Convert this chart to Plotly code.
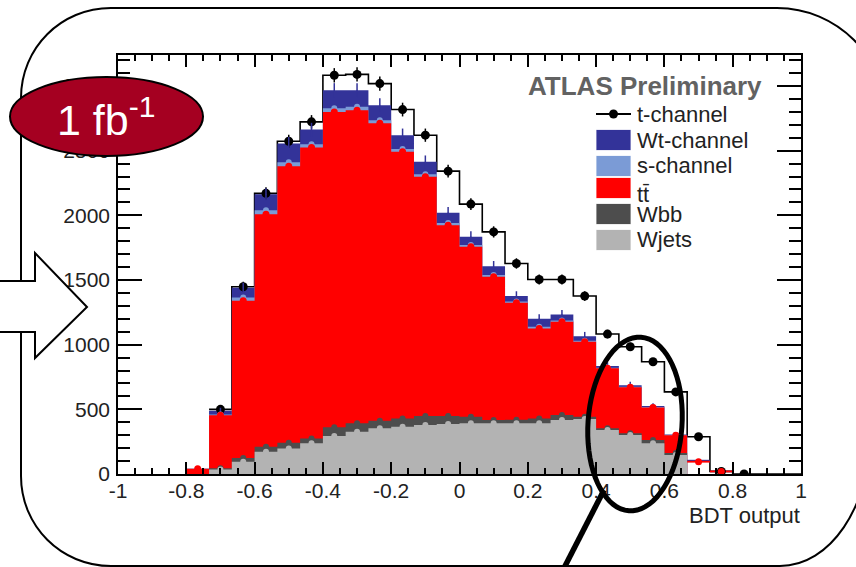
import numpy as np
import plotly.graph_objects as go

# ---------------------------------------------------------------- page geometry
W, H = 856, 567
ML, MR, MT, MB = 118, 55, 55, 93
PW, PH = W - ML - MR, H - MT - MB

# ---------------------------------------------------------------- data
# BDT output, 30 bins on [-1, 1]; events per bin for each process
wjets   = [0, 0, 0, 0, 35, 95, 172, 198, 237, 294, 327, 353, 366, 379, 386,
           392, 392, 392, 392, 417, 425, 340, 301, 237, 147, 0, 0, 0, 0, 0]
wbb     = [0, 0, 0, 0, 10, 29, 39, 44, 38, 67, 65, 59, 64, 69, 62,
           51, 25, 28, 38, 39, 18, 13, 14, 26, 15, 0, 0, 0, 0, 0]
ttbar   = [0, 0, 0, 40, 410, 1215, 1798, 2138, 2250, 2439, 2421, 2300, 2061, 1850, 1476,
           1314, 1108, 904, 696, 721, 580, 464, 355, 252, 138, 95, 20, 0, 0, 0]
s_chan  = [0, 0, 0, 0, 5, 25, 30, 30, 25, 28, 26, 24, 22, 20, 16,
           14, 14, 10, 12, 10, 8, 4, 4, 3, 2, 2, 0, 0, 0, 0]
wt_chan = [0, 0, 0, 0, 30, 76, 125, 146, 114, 140, 129, 116, 107, 96, 80,
           63, 68, 42, 62, 47, 35, 14, 13, 7, 4, 7, 0, 0, 0, 0]
t_chan  = [0, 0, 0, 0, 10, 8, 6, 17, 59, 115, 122, 167, 198, 206, 322,
           253, 265, 252, 304, 270, 310, 247, 297, 343, 329, 184, 0, 0, 0, 0]

x_ticks = [-1, -0.8, -0.6, -0.4, -0.2, 0, 0.2, 0.4, 0.6, 0.8, 1]
x_ticklabels = ["-1", "-0.8", "-0.6", "-0.4", "-0.2", "0", "0.2", "0.4", "0.6", "0.8", "1"]
y_ticks = [0, 500, 1000, 1500, 2000, 2500, 3000]
y_ticklabels = ["0", "500", "1000", "1500", "2000", "2500", "3000"]

legend_entries = ["t-channel", "Wt-channel", "s-channel", "tt\u0304", "Wbb", "Wjets"]

# ---------------------------------------------------------------- binning / stack
edges = np.linspace(-1, 1, 31)
centres = 0.5 * (edges[:-1] + edges[1:])

c_wjets = np.array(wjets, float)
c_wbb = c_wjets + wbb
c_tt = c_wbb + ttbar
c_s = c_tt + s_chan
c_wt = c_s + wt_chan
c_tot = c_wt + t_chan

FILL_FIRST, FILL_LAST = 3, 24      # bins where the background stack is filled
LINE_FIRST, LINE_LAST = 4, 29      # extent of the total outline
TAIL = [25, 26]                    # bins where only the outlines are drawn

COL = dict(wt="#333399", s="#7b9bd6", tt="#ff0000", wbb="#4d4d4d",
           wjets="#b3b3b3", badge="#a50021")
FONT = "Liberation Sans, Arial, Helvetica, sans-serif"


def step(vals, k0, k1):
    x = list(edges[k0:k1 + 2])
    y = list(vals[k0:k1 + 1]) + [vals[k1]]
    return x, y


def flat_segments(vals, bins):
    xs, ys = [], []
    for k in bins:
        xs += [edges[k], edges[k + 1], None]
        ys += [vals[k], vals[k], None]
    return xs, ys


fig = go.Figure()

# total (signal on top), white fill with black outline
x, y = step(c_tot, LINE_FIRST, LINE_LAST)
fig.add_trace(go.Scatter(x=x, y=y, mode="lines", line=dict(shape="hv", color="black", width=1.6),
                         fill="tozeroy", fillcolor="white", showlegend=False, hoverinfo="skip"))

# background layers drawn from the top of the stack downwards
for cum, key in [(c_wt, "wt"), (c_s, "s"), (c_tt, "tt"), (c_wbb, "wbb"), (c_wjets, "wjets")]:
    x, y = step(cum, FILL_FIRST, FILL_LAST)
    fig.add_trace(go.Scatter(x=x, y=y, mode="lines", line=dict(shape="hv", color=COL[key], width=0),
                             fill="tozeroy", fillcolor=COL[key], showlegend=False, hoverinfo="skip"))

# outline-only bins in the tail
for cum, key, wdt in [(c_wt, "wt", 1.5), (c_tt, "tt", 1.8)]:
    x, y = flat_segments(cum, TAIL)
    fig.add_trace(go.Scatter(x=x, y=y, mode="lines", line=dict(color=COL[key], width=wdt),
                             showlegend=False, hoverinfo="skip"))

# t-channel points with statistical errors
ks = np.arange(4, 28)
fig.add_trace(go.Scatter(x=centres[ks], y=c_tot[ks], mode="markers",
                         marker=dict(color="black", size=9),
                         error_y=dict(type="data", array=np.sqrt(c_tot[ks]), color="black",
                                      thickness=1.5, width=0),
                         showlegend=False, hoverinfo="skip"))

# Wt-channel error ticks
kb = np.arange(4, 25)
fig.add_trace(go.Scatter(x=centres[kb], y=c_wt[kb], mode="markers",
                         marker=dict(color=COL["wt"], size=1),
                         error_y=dict(type="data", array=np.sqrt(c_wt[kb]), color=COL["wt"],
                                      thickness=1.5, width=0),
                         showlegend=False, hoverinfo="skip"))

# per-bin markers of the lower layers
for cum, key, kk, size in [(c_s, "s", kb, 6), (c_tt, "tt", np.arange(3, 27), 7),
                           (c_wbb, "wbb", kb, 6), (c_wjets, "wjets", kb, 6)]:
    fig.add_trace(go.Scatter(x=centres[kk], y=cum[kk], mode="markers",
                             marker=dict(color=COL[key], size=size),
                             showlegend=False, hoverinfo="skip"))


# ---------------------------------------------------------------- page decorations
def P(x, y):
    return (x - ML) / PW, (H - MB - y) / PH


def path(cmds):
    out = []
    for c, pts in cmds:
        s = " ".join("%.5f,%.5f" % P(*p) for p in pts)
        out.append(c + s)
    return " ".join(out) + " Z"


shapes = []

# rounded frame
frame = [("M", [(21, 98)]),
         ("C", [(21, 48), (61, 8), (111, 8)]),
         ("L", [(777, 8)]),
         ("C", [(837, 8), (886, 57), (886, 117)]),
         ("L", [(870, 434)]),
         ("C", [(870, 507), (830, 566), (780, 566)]),
         ("L", [(111, 566)]),
         ("C", [(61, 566), (21, 526), (21, 476)])]
shapes.append(dict(type="path", xref="paper", yref="paper", path=path(frame),
                   line=dict(color="black", width=2), fillcolor="rgba(0,0,0,0)", layer="above"))

# block arrow on the left
arrow = [("M", [(-5, 281)]), ("L", [(35, 281)]), ("L", [(35, 253)]), ("L", [(87, 307)]),
         ("L", [(35, 358)]), ("L", [(35, 332)]), ("L", [(-5, 332)])]
shapes.append(dict(type="path", xref="paper", yref="paper", path=path(arrow),
                   line=dict(color="black", width=2), fillcolor="white", layer="above"))

# luminosity badge
x0, y0 = P(10, 77)
x1, y1 = P(203, 156)
shapes.append(dict(type="circle", xref="paper", yref="paper", x0=x0, x1=x1, y0=y1, y1=y0,
                   fillcolor=COL["badge"], line=dict(color="black", width=2), layer="above"))

# legend symbols
rows = [114, 140, 166, 188, 214, 240]
bx0, bx1 = 596, 631
for r, key in zip(rows[1:], ["wt", "s", "tt", "wbb", "wjets"]):
    a0, b0 = P(bx0, r - 10.5)
    a1, b1 = P(bx1, r + 10.5)
    shapes.append(dict(type="rect", xref="paper", yref="paper", x0=a0, x1=a1, y0=b1, y1=b0,
                       fillcolor=COL[key], line=dict(color="white", width=0.8), layer="above"))
a0, b0 = P(bx0, rows[0])
a1, _ = P(bx1, rows[0])
shapes.append(dict(type="line", xref="paper", yref="paper", x0=a0, x1=a1, y0=b0, y1=b0,
                   line=dict(color="black", width=2), layer="above"))
a0, b0 = P(bx0 + 13, rows[0] - 4.5)
a1, b1 = P(bx0 + 22, rows[0] + 4.5)
shapes.append(dict(type="circle", xref="paper", yref="paper", x0=a0, x1=a1, y0=b1, y1=b0,
                   fillcolor="black", line=dict(color="black", width=0), layer="above"))

# magnifier: tilted ellipse and handle
t = np.linspace(0, 2 * np.pi, 73)
rot = np.deg2rad(4)
ex, ey = 47 * np.cos(t), 87 * np.sin(t)
px_ = 635 + ex * np.cos(rot) - ey * np.sin(rot)
py_ = 424 + ex * np.sin(rot) + ey * np.cos(rot)
ell = [("M", [(px_[0], py_[0])])] + [("L", [(a, b)]) for a, b in zip(px_[1:], py_[1:])]
shapes.append(dict(type="path", xref="paper", yref="paper", path=path(ell),
                   line=dict(color="black", width=5), fillcolor="rgba(0,0,0,0)", layer="above"))
a0, b0 = P(604, 490)
a1, b1 = P(562, 572)
shapes.append(dict(type="line", xref="paper", yref="paper", x0=a0, x1=a1, y0=b0, y1=b1,
                   line=dict(color="black", width=5.5), layer="above"))

# ---------------------------------------------------------------- text
ann = []
xa, ya = P(106, 117)
ann.append(dict(x=xa, y=ya, xref="paper", yref="paper", text="1 fb<sup>-1</sup>", showarrow=False,
                xanchor="center", yanchor="middle", font=dict(family=FONT, size=43, color="white")))
xa, ya = P(764, 86)
ann.append(dict(x=xa, y=ya, xref="paper", yref="paper", text="<b>ATLAS Preliminary</b>",
                showarrow=False, xanchor="right", yanchor="middle",
                font=dict(family=FONT, size=26, color="#626262")))
for i, (r, lab) in enumerate(zip(rows, legend_entries)):
    dy = 6 if i == 3 else 0
    xa, ya = P(635, r + dy)
    ann.append(dict(x=xa, y=ya, xref="paper", yref="paper", text=lab, showarrow=False,
                    xanchor="left", yanchor="middle", font=dict(family=FONT, size=22, color="#222")))
xa, ya = P(802, 515)
ann.append(dict(x=xa, y=ya, xref="paper", yref="paper", text="BDT output", showarrow=False,
                xanchor="right", yanchor="middle", font=dict(family=FONT, size=22, color="#222")))

axis_common = dict(showline=True, linecolor="black", linewidth=1.6, mirror="ticks",
                   ticks="inside", tickcolor="black", tickwidth=1.5,
                   showgrid=False, zeroline=False,
                   tickfont=dict(family=FONT, size=21, color="#222"))

fig.update_layout(
    width=W, height=H,
    margin=dict(l=ML, r=MR, t=MT, b=MB, pad=0),
    paper_bgcolor="white", plot_bgcolor="white",
    showlegend=False,
    xaxis=dict(range=[-1, 1], tickmode="array", tickvals=x_ticks, ticktext=x_ticklabels,
               ticklen=12, ticklabelstandoff=-3,
               minor=dict(ticks="inside", ticklen=6, tickwidth=1.5, tickcolor="black",
                          tickmode="linear", tick0=-1, dtick=0.05),
               **axis_common),
    yaxis=dict(range=[0, 3240], tickmode="array", tickvals=y_ticks, ticktext=y_ticklabels,
               ticklen=24, ticklabelstandoff=2,
               minor=dict(ticks="inside", ticklen=12, tickwidth=1.5, tickcolor="black",
                          tickmode="linear", tick0=0, dtick=100),
               **axis_common),
    shapes=shapes,
    annotations=ann,
)

fig.write_html("out.html")
